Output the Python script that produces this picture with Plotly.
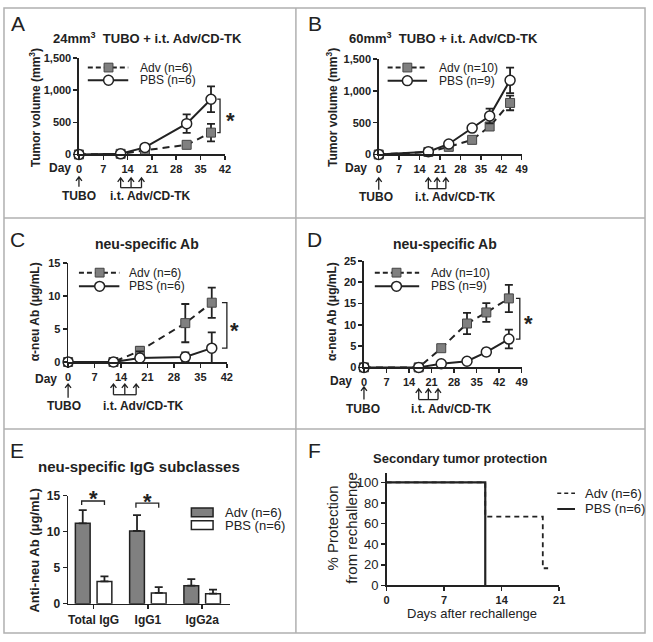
import plotly.graph_objects as go

W, H = 653, 642
FONT = "Liberation Sans, Arial, sans-serif"
INK = "#222222"
GREY = "#808080"

# ---------------- data ----------------
a_days = [0, 12, 19, 31, 38]
a_adv = [0, 10, 65, 150, 340]
a_adv_err = [0, 5, 15, 25, 135]
a_pbs = [0, 10, 110, 480, 860]
a_pbs_err = [0, 5, 15, 145, 200]

b_days = [0, 17, 24, 32, 38, 45]
b_adv = [0, 40, 120, 230, 440, 810]
b_adv_err = [0, 5, 15, 20, 40, 115]
b_pbs = [0, 42, 165, 415, 605, 1165]
b_pbs_err = [0, 5, 15, 20, 115, 200]

c_days = [0, 12, 19, 31, 38]
c_adv = [0, 0, 1.7, 5.9, 9.0]
c_adv_err = [0, 0, 0.6, 2.9, 2.3]
c_pbs = [0, 0, 0.6, 0.75, 2.1]
c_pbs_err = [0, 0, 1.0, 0.7, 2.4]

d_days = [0, 17, 24, 32, 38, 45]
d_adv = [0, 0, 4.5, 10.3, 12.9, 16.2]
d_adv_err = [0, 0, 0.7, 2.5, 2.2, 3.2]
d_pbs = [0, 0, 0.85, 1.45, 3.6, 6.65]
d_pbs_err = [0, 0, 0.2, 0.2, 0.8, 2.2]

e_classes = ["Total IgG", "IgG1", "IgG2a"]
e_adv = [11.15, 10.1, 2.5]
e_adv_err = [1.85, 2.2, 0.9]
e_pbs = [3.1, 1.5, 1.4]
e_pbs_err = [0.7, 0.8, 0.55]

f_adv_days = [0, 12, 19, 19.65]
f_adv_pct = [100, 66.7, 16.7, 16.7]
f_pbs_days = [0, 12]
f_pbs_pct = [100, 0]

inj_days_ac = [12, 15, 18]
inj_days_bd = [17, 20, 23]

day_ticks_42 = [0, 7, 14, 21, 28, 35, 42]
day_ticks_49 = [0, 7, 14, 21, 28, 35, 42, 49]
vol_ticks = [0, 500, 1000, 1500]
ab15_ticks = [0, 5, 10, 15]
ab25_ticks = [0, 5, 10, 15, 20, 25]
f_x_ticks = [0, 7, 14, 21]
f_y_ticks = [0, 20, 40, 60, 80, 100]

# ---------------- geometry (pixels) ----------------
GEOM = {
    "A": dict(x0=77, x1=225, xr=(0, 42), yb=151, yt=52.3, yr=(0, 1500)),
    "B": dict(x0=381, x1=526, xr=(0, 49), yb=151, yt=53.3, yr=(0, 1500)),
    "C": dict(x0=66, x1=227, xr=(0, 42), yb=363.5, yt=262.3, yr=(0, 15)),
    "D": dict(x0=366, x1=526, xr=(0, 49), yb=369, yt=260, yr=(0, 25)),
    "E": dict(x0=66, x1=230, xr=(-0.47, 2.51), yb=611, yt=500.3, yr=(0, 15)),
    "F": dict(x0=389, x1=564, xr=(0, 21), yb=592.3, yt=477.2, yr=(0, 109)),
}
AX = {k: ("x" + ("" if i == 0 else str(i + 1)), "y" + ("" if i == 0 else str(i + 1)))
      for i, k in enumerate("ABCDEF")}


def PX(p):
    return p / W


def PY(p):
    return 1 - p / H


def dpx(key, xv):
    g = GEOM[key]
    return g["x0"] + (xv - g["xr"][0]) / (g["xr"][1] - g["xr"][0]) * (g["x1"] - g["x0"])


def dpy(key, yv):
    g = GEOM[key]
    return g["yb"] - (yv - g["yr"][0]) / (g["yr"][1] - g["yr"][0]) * (g["yb"] - g["yt"])


fig = go.Figure()

shapes = []
annotations = []


def text(x, y, s, size=12, bold=False, angle=0, xanchor="center", color=INK):
    annotations.append(dict(
        x=PX(x), y=PY(y), xref="paper", yref="paper", text=s, showarrow=False,
        xanchor=xanchor, yanchor="middle", textangle=angle,
        font=dict(family=FONT, size=size, color=color, weight="bold" if bold else "normal")))


def line(x0, y0, x1, y1, width=1.5, color=INK, dash=None):
    d = dict(type="line", xref="paper", yref="paper", x0=PX(x0), y0=PY(y0), x1=PX(x1), y1=PY(y1),
             line=dict(color=color, width=width))
    if dash:
        d["line"]["dash"] = dash
    shapes.append(d)


def path(points_list, width=1.3, color=INK):
    segs = []
    for pts in points_list:
        segs.append("M" + " L".join(f"{PX(x):.5f},{PY(y):.5f}" for x, y in pts))
    shapes.append(dict(type="path", xref="paper", yref="paper", path=" ".join(segs),
                       line=dict(color=color, width=width)))


# ---------------- time-course panels ----------------
def add_course(key, days, adv, adv_err, pbs, pbs_err):
    xa, ya = AX[key]
    fig.add_trace(go.Scatter(
        x=days, y=adv, mode="lines+markers", xaxis=xa, yaxis=ya, cliponaxis=False, showlegend=False,
        line=dict(color=INK, width=2, dash="7px,5px"),
        marker=dict(symbol="square", size=9, color=GREY, line=dict(color="#444444", width=1)),
        error_y=dict(type="data", array=adv_err, color=INK, thickness=1.8, width=4)))
    fig.add_trace(go.Scatter(
        x=days, y=pbs, mode="lines+markers", xaxis=xa, yaxis=ya, cliponaxis=False, showlegend=False,
        line=dict(color=INK, width=2),
        marker=dict(symbol="circle", size=10, color="white", line=dict(color=INK, width=1.5)),
        error_y=dict(type="data", array=pbs_err, color=INK, thickness=1.8, width=4)))


add_course("A", a_days, a_adv, a_adv_err, a_pbs, a_pbs_err)
add_course("B", b_days, b_adv, b_adv_err, b_pbs, b_pbs_err)
add_course("C", c_days, c_adv, c_adv_err, c_pbs, c_pbs_err)
add_course("D", d_days, d_adv, d_adv_err, d_pbs, d_pbs_err)

# ---------------- bar panel E ----------------
fig.add_trace(go.Bar(
    x=e_classes, y=e_adv, name="Adv (n=6)", xaxis="x5", yaxis="y5", showlegend=False,
    marker=dict(color=GREY, line=dict(color=INK, width=1.5)),
    error_y=dict(type="data", symmetric=False, array=e_adv_err, arrayminus=[0] * len(e_adv),
                 color=INK, thickness=1.8, width=4)))
fig.add_trace(go.Bar(
    x=e_classes, y=e_pbs, name="PBS (n=6)", xaxis="x5", yaxis="y5", showlegend=False,
    marker=dict(color="white", line=dict(color=INK, width=1.5)),
    error_y=dict(type="data", symmetric=False, array=e_pbs_err, arrayminus=[0] * len(e_pbs),
                 color=INK, thickness=1.8, width=4)))

# ---------------- survival panel F ----------------
fig.add_trace(go.Scatter(
    x=f_adv_days, y=f_adv_pct, mode="lines", line_shape="hv", xaxis="x6", yaxis="y6",
    cliponaxis=False, showlegend=False, line=dict(color=INK, width=1.8, dash="5px,4px")))
fig.add_trace(go.Scatter(
    x=f_pbs_days, y=f_pbs_pct, mode="lines", line_shape="hv", xaxis="x6", yaxis="y6",
    cliponaxis=False, showlegend=False, line=dict(color=INK, width=2.2)))

# ---------------- axes ----------------
layout_axes = {}
for i, key in enumerate("ABCDEF"):
    g = GEOM[key]
    n = "" if i == 0 else str(i + 1)
    common = dict(showline=True, linecolor=INK, linewidth=1.5, ticks="outside", ticklen=4,
                  tickwidth=1.5, tickcolor=INK, showgrid=False, zeroline=False, fixedrange=True,
                  tickfont=dict(family=FONT, size=11, color=INK, weight="bold"))
    xa = dict(common, domain=[PX(g["x0"]), PX(g["x1"])], range=list(g["xr"]), anchor="y" + n)
    ya = dict(common, domain=[PY(g["yb"]), PY(g["yt"])], range=list(g["yr"]), anchor="x" + n)
    layout_axes["xaxis" + n] = xa
    layout_axes["yaxis" + n] = ya

layout_axes["xaxis"].update(tickvals=day_ticks_42)
layout_axes["xaxis2"].update(tickvals=day_ticks_49)
layout_axes["xaxis3"].update(tickvals=day_ticks_42)
layout_axes["xaxis4"].update(tickvals=day_ticks_49)
layout_axes["yaxis"].update(tickvals=vol_ticks, tickformat=",d")
layout_axes["yaxis2"].update(tickvals=vol_ticks, tickformat=",d")
layout_axes["yaxis3"].update(tickvals=ab15_ticks)
layout_axes["yaxis4"].update(tickvals=ab25_ticks)
layout_axes["xaxis5"].update(type="category", tickfont=dict(family=FONT, size=12, color=INK, weight="bold"))
layout_axes["yaxis5"].update(tickvals=ab15_ticks, tickfont=dict(family=FONT, size=12, color=INK, weight="bold"))
layout_axes["xaxis6"].update(tickvals=f_x_ticks, tickfont=dict(family=FONT, size=11, color=INK, weight="bold"))
layout_axes["yaxis6"].update(tickvals=f_y_ticks, tickfont=dict(family=FONT, size=13, color=INK))

# ---------------- panel frames ----------------
FRAME = "#b0b0b0"
shapes.append(dict(type="rect", xref="paper", yref="paper", x0=PX(1), y0=PY(641), x1=PX(651), y1=PY(1),
                   line=dict(color=FRAME, width=1.5)))
line(297, 1, 297, 641, width=1.5, color=FRAME)
line(1, 216, 651, 216, width=1.5, color=FRAME)
line(1, 432, 651, 432, width=1.5, color=FRAME)

# panel letters
for lx, ly, s in [(15, 17, "A"), (316, 17, "B"), (15, 238, "C"), (316, 238, "D"), (14, 454, "E"), (316, 454, "F")]:
    text(lx, ly, s, size=21)

# titles
text(147, 32, "24mm<sup>3</sup>  TUBO + i.t. Adv/CD-TK", size=13, bold=True)
text(447, 32, "60mm<sup>3</sup>  TUBO + i.t. Adv/CD-TK", size=13, bold=True)
text(146, 243, "neu-specific Ab", size=14, bold=True)
text(448, 243, "neu-specific Ab", size=14, bold=True)
text(138, 471, "neu-specific IgG subclasses", size=15, bold=True)
text(463, 462, "Secondary tumor protection", size=13, bold=True)

# y titles
text(32, 103, "Tumor volume (mm<sup>3</sup>)", size=12, bold=True, angle=-90)
text(333, 103, "Tumor volume (mm<sup>3</sup>)", size=12, bold=True, angle=-90)
text(32, 312, "α-neu Ab (μg/mL)", size=12, bold=True, angle=-90)
text(333, 312, "α-neu Ab (μg/mL)", size=12, bold=True, angle=-90)
text(32, 557, "Anti-neu Ab (μg/mL)", size=13, bold=True, angle=-90)
text(344, 533, "% Protection<br>from rechallenge", size=15, angle=-90)
text(476, 621, "Days after rechallenge", size=13)

# "Day" labels
for key, dx_, dy_ in [("A", 58, 165), ("B", 358, 165), ("C", 43.5, 381), ("D", 343, 383)]:
    text(dx_, dy_, "Day", size=12, bold=True)


# arrows under time axes (open chevron heads)
def up_arrow(x, tip, tail):
    path([[(x, tail), (x, tip)], [(x - 3, tip + 4), (x, tip), (x + 3, tip + 4)]], width=1.3)


ARW = {
    "A": dict(inj=inj_days_ac, tubo=(174, 184), tip=175, base=185, ty=194, tubo_cx=77, inj_cx=150),
    "B": dict(inj=inj_days_bd, tubo=(175, 187), tip=175, base=186, ty=195, tubo_cx=378, inj_cx=459),
    "C": dict(inj=inj_days_ac, tubo=(386, 400), tip=386, base=397, ty=409, tubo_cx=62, inj_cx=142),
    "D": dict(inj=inj_days_bd, tubo=(389, 402), tip=391, base=402, ty=412, tubo_cx=365, inj_cx=455),
}
for key, a in ARW.items():
    up_arrow(dpx(key, 0), a["tubo"][0], a["tubo"][1])
    xs = [dpx(key, d) for d in a["inj"]]
    for xv in xs:
        up_arrow(xv, a["tip"], a["base"])
    line(xs[0], a["base"], xs[-1], a["base"], width=1.3)
    text(a["tubo_cx"], a["ty"], "TUBO", size=12, bold=True)
    text(a["inj_cx"], a["ty"], "i.t. Adv/CD-TK", size=12, bold=True)


# significance brackets (time courses)
def bracket_v(key, xb, xl, y_top, y_bot, xs):
    X = dpx(key, xb)
    XL = dpx(key, xl)
    Yt = dpy(key, y_top)
    Yb = dpy(key, y_bot)
    path([[(XL, Yt), (X, Yt), (X, Yb), (XL, Yb)]], width=1.3)
    text(dpx(key, xs), (Yt + Yb) / 2 + 5, "*", size=22, bold=True)


bracket_v("A", 40.6, 39.8, a_pbs[-1], a_adv[-1], 43.5)
bracket_v("C", 42.0, 40.7, c_adv[-1], c_pbs[-1], 44.1)
bracket_v("D", 48.4, 47.2, d_adv[-1], d_pbs[-1], 51.0)


# significance brackets (bars)
def bracket_h(key, ci, y_top, y_leg, y_star):
    X0 = dpx(key, ci - 0.22)
    X1 = dpx(key, ci + 0.2)
    Yt = dpy(key, y_top)
    Yl = dpy(key, y_leg)
    path([[(X0, Yl), (X0, Yt), (X1, Yt), (X1, Yl)]], width=1.3)
    text((X0 + X1) / 2, dpy(key, y_star) + 5, "*", size=22, bold=True)


bracket_h("E", 0, 14.25, 13.7, 15.3)
bracket_h("E", 1, 13.95, 13.3, 14.9)


# ---------------- manual legends ----------------
def legend_course(lx0, lx1, mx, tx, y1, y2, adv_lab, pbs_lab):
    line(lx0, y1, lx1, y1, width=2, dash="5px,3px")
    shapes.append(dict(type="rect", xref="paper", yref="paper", x0=PX(mx - 4.5), x1=PX(mx + 4.5),
                       y0=PY(y1 + 4.5), y1=PY(y1 - 4.5), fillcolor=GREY, line=dict(color="#444444", width=1)))
    text(tx, y1, adv_lab, size=12, xanchor="left")
    line(lx0, y2, lx1, y2, width=2)
    shapes.append(dict(type="circle", xref="paper", yref="paper", x0=PX(mx - 5), x1=PX(mx + 5),
                       y0=PY(y2 + 5), y1=PY(y2 - 5), fillcolor="white", line=dict(color=INK, width=1.5)))
    text(tx, y2, pbs_lab, size=12, xanchor="left")


legend_course(86, 127, 107, 137, 62, 75, "Adv (n=6)", "PBS (n=6)")
legend_course(390, 430, 410, 440, 62, 75.5, "Adv (n=10)", "PBS (n=9)")
legend_course(77, 118, 98, 126, 272, 286, "Adv (n=6)", "PBS (n=6)")
legend_course(377, 422, 399, 432, 272, 286, "Adv (n=10)", "PBS (n=9)")

# E legend
shapes.append(dict(type="rect", xref="paper", yref="paper", x0=PX(191), x1=PX(213), y0=PY(522), y1=PY(513),
                   fillcolor=GREY, line=dict(color=INK, width=1.5)))
shapes.append(dict(type="rect", xref="paper", yref="paper", x0=PX(191), x1=PX(213), y0=PY(535), y1=PY(526),
                   fillcolor="white", line=dict(color=INK, width=1.5)))
text(223, 517.5, "Adv (n=6)", size=13, xanchor="left")
text(223, 530.5, "PBS (n=6)", size=13, xanchor="left")

# F legend
line(562, 498, 580, 498, width=1.5, dash="4px,3px")
line(562, 514, 580, 514, width=2)
text(588, 498, "Adv (n=6)", size=13, xanchor="left")
text(588, 514, "PBS (n=6)", size=13, xanchor="left")

fig.update_layout(
    width=W, height=H, margin=dict(l=0, r=0, t=0, b=0),
    paper_bgcolor="white", plot_bgcolor="rgba(0,0,0,0)",
    barmode="group", bargap=0.2, bargroupgap=0.32,
    showlegend=False, shapes=shapes, annotations=annotations,
    font=dict(family=FONT, color=INK),
    **layout_axes,
)

fig.write_html(
    "out.html",
    config={"displayModeBar": False, "staticPlot": True},
    post_script="document.body.style.margin='0';document.body.style.padding='0';"
                "document.body.style.overflow='hidden';document.documentElement.style.overflow='hidden';",
)
